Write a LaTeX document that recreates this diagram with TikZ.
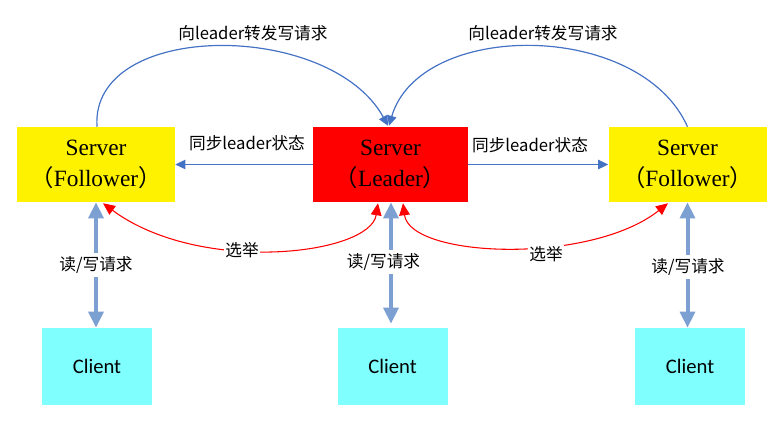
\documentclass[tikz,border=0pt]{standalone}
\usepackage{fontspec}
\setmainfont{Liberation Serif}
\newfontfamily\cjk{Noto Sans CJK SC}
\newfontfamily\clientfont{Carlito}
\usetikzlibrary{arrows.meta,calc}
\definecolor{flowblue}{RGB}{68,114,196}
\definecolor{thickblue}{RGB}{124,160,210}
\definecolor{clientcyan}{RGB}{128,255,255}
\tikzset{
  serverbox/.style={inner sep=0pt, minimum height=56.25pt, align=center,
    font=\fontsize{17.5}{23}\selectfont},
  followerbox/.style={serverbox, fill=yellow, minimum width=118.5pt},
  leaderbox/.style={serverbox, fill=red, minimum width=116.25pt},
  clientbox/.style={fill=clientcyan, inner sep=0pt, minimum width=82.5pt,
    minimum height=57.75pt, font=\clientfont\fontsize{15.5}{18}\selectfont},
  lbl/.style={font=\cjk\fontsize{12.5}{14}\selectfont, inner sep=2pt},
  gaplbl/.style={lbl, fill=white, inner sep=3pt},
  thinarrow/.style={draw=flowblue, line width=0.9pt,
    -{Triangle[length=7.5pt,width=7pt]}},
  redarrow/.style={draw=red, line width=0.8pt,
    {Triangle[length=9pt,width=8pt]}-{Triangle[length=9pt,width=8pt]}},
  thickarrow/.style={draw=thickblue, line width=3pt,
    {Triangle[length=12pt,width=11pt]}-{Triangle[length=12pt,width=11pt]}}
}
\begin{document}
\begin{tikzpicture}[x=0.75pt,y=-0.75pt]
\useasboundingbox (0,0) rectangle (777,421);
% servers
\node[followerbox] (lf) at (96,164.5) {Server\\{\cjk （}Follower{\cjk ）}};
\node[leaderbox] (ld) at (390.5,164.5) {Server\\{\cjk （}Leader{\cjk ）}};
\node[followerbox] (rf) at (687.5,164.5) {Server\\{\cjk （}Follower{\cjk ）}};
% clients
\node[clientbox] (lc) at (97,366.5) {Client};
\node[clientbox] (mc) at (392.5,366.5) {Client};
\node[clientbox] (rc) at (690,366.5) {Client};
% top arcs
\draw[thinarrow] ($(lf.north)+(1,0)$) .. controls (90,20) and (330,20) .. ($(ld.north)+(-2.5,-1)$);
\draw[thinarrow] (rf.north) .. controls (640,20) and (420,20) .. ($(ld.north)+(-1.5,-1)$);
\node[lbl] (t1) at (253,33) {向leader转发写请求};
\node[lbl] (t2) at (543,33) {向leader转发写请求};
% sync arrows
\draw[thinarrow] (ld.west) -- (lf.east);
\draw[thinarrow] (ld.east) -- (rf.west);
\node[lbl] (s1) at (247,143) {同步leader状态};
\node[lbl] (s2) at (530,145) {同步leader状态};
% election
\draw[redarrow] ($(ld.south)+(-12.5,1)$) .. controls (370,255) and (200,275) .. ($(lf.south)+(7,1)$);
\draw[redarrow] ($(ld.south)+(12.5,1)$) .. controls (410,258) and (590,265) .. ($(rf.south)+(-19.5,1)$);
\node[gaplbl, inner sep=1pt] (e1) at (242,250) {选举};
\node[gaplbl, inner sep=1pt] (e2) at (546,254) {选举};
% read/write
\draw[thickarrow] (lf.south) -- (lf.south |- lc.north);
\draw[thickarrow] ($(ld.south)+(0.5,0)$) -- ($(mc.north)+(-1.5,-4)$);
\draw[thickarrow] (rf.south) -- (rf.south |- rc.north);
\node[gaplbl] (r1) at (96,265) {读/写请求};
\node[gaplbl] (r2) at (383.5,262) {读/写请求};
\node[gaplbl] (r3) at (688,267) {读/写请求};
\end{tikzpicture}
\end{document}
